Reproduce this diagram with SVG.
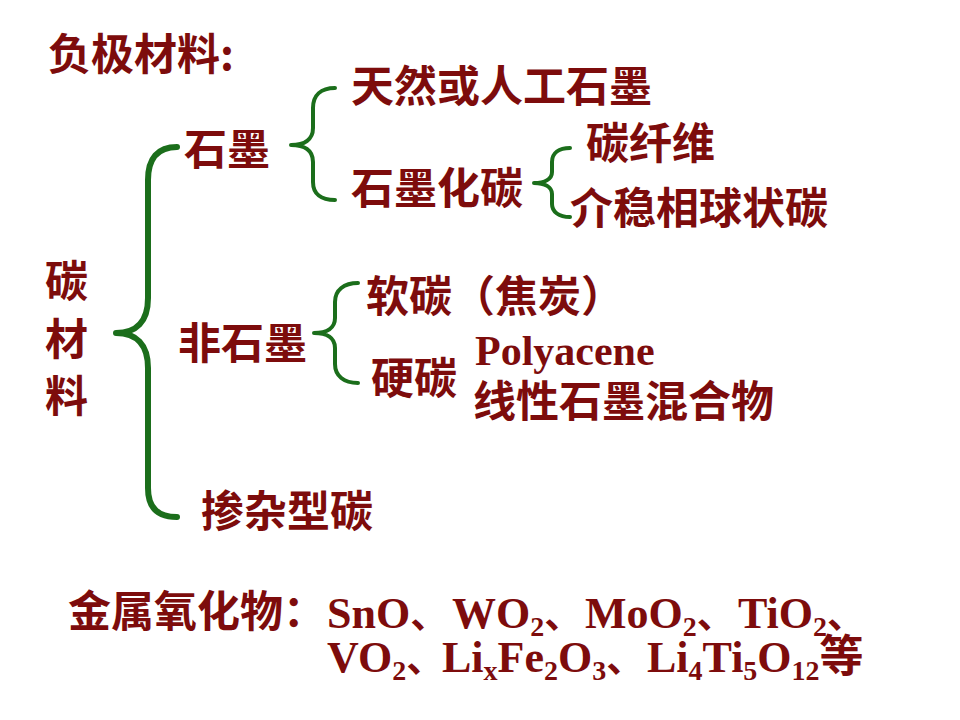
<svg xmlns="http://www.w3.org/2000/svg" width="960" height="720" viewBox="0 0 960 720">
<style>
.cn{font-family:"Noto Sans CJK SC","Noto Sans",sans-serif;font-size:43px;font-weight:700;fill:#7d0c0c}
.la{font-family:"Liberation Serif","Noto Sans CJK SC",serif;font-size:44px;font-weight:700;fill:#7d0c0c}
.sub{font-size:28px}
.cm{font-size:38px}
.br{fill:none;stroke:#1b6e1b;stroke-width:4;stroke-linecap:round;stroke-linejoin:round}
.big{stroke-width:6}
</style>
<rect width="960" height="720" fill="#ffffff"/>
<g id="title"><text class="cn" x="48" y="70">负极材料:</text></g>
<g id="connectors">
<path class="br big" d="M177,147 C158,147 148,158 148,180 L148,298 C148,322 136,333 116,333 C136,333 148,344 148,368 L148,488 C148,508 158,517 177,517"/>
<path class="br" d="M335,88 C321,88 313,95 313,108 L313,128 C313,140 304,145 291,145 C304,145 313,150 313,162 L313,182 C313,194 321,200 335,200"/>
<path class="br" d="M570,148 C559,148 552,153 552,162 L552,172 C552,179 545,183 534,183 C545,183 552,187 552,194 L552,204 C552,212 559,217 570,217"/>
<path class="br" d="M358,283 C344,283 335,290 335,302 L335,318 C335,328 327,333 314,333 C327,333 335,338 335,348 L335,364 C335,376 344,383 358,383"/>
</g>
<g id="n-carbon"><text class="cn" x="45" y="297">碳</text><text class="cn" x="45" y="355">材</text><text class="cn" x="45" y="412">料</text></g>
<g id="n-graphite"><text class="cn" x="184" y="165">石墨</text></g>
<g id="n-natural"><text class="cn" x="351" y="102">天然或人工石墨</text></g>
<g id="n-graphitized"><text class="cn" x="351" y="204">石墨化碳</text></g>
<g id="n-fiber"><text class="cn" x="586" y="159">碳纤维</text></g>
<g id="n-mcmb"><text class="cn" x="570" y="224">介稳相球状碳</text></g>
<g id="n-nongraphite"><text class="cn" x="178" y="359">非石墨</text></g>
<g id="n-soft"><text class="cn" x="366" y="312">软碳（焦炭）</text></g>
<g id="n-hard"><text class="cn" x="371" y="394">硬碳</text></g>
<g id="n-polyacene"><text class="la" x="475" y="365" style="font-size:42px">Polyacene</text></g>
<g id="n-linear"><text class="cn" x="473" y="417">线性石墨混合物</text></g>
<g id="n-doped"><text class="cn" x="201" y="527">掺杂型碳</text></g>
<g id="oxides">
<text class="cn" x="68" y="627">金属氧化物：</text>
<text class="la" y="628"><tspan x="327">SnO</tspan><tspan class="cm">、</tspan><tspan x="452">WO</tspan><tspan class="sub" dy="8">2</tspan><tspan class="cm" dy="-8">、</tspan><tspan x="585">MoO</tspan><tspan class="sub" dy="8">2</tspan><tspan class="cm" dy="-8">、</tspan><tspan x="738">TiO</tspan><tspan class="sub" dy="8">2</tspan><tspan class="cm" dy="-8">、</tspan></text>
<text class="la" y="672"><tspan x="327">VO</tspan><tspan class="sub" dy="8">2</tspan><tspan class="cm" dy="-8">、</tspan><tspan x="442">Li</tspan><tspan class="sub" dy="8">x</tspan><tspan dy="-8">Fe</tspan><tspan class="sub" dy="8">2</tspan><tspan dy="-8">O</tspan><tspan class="sub" dy="8">3</tspan><tspan class="cm" dy="-8">、</tspan><tspan x="647">Li</tspan><tspan class="sub" dy="8">4</tspan><tspan dy="-8">Ti</tspan><tspan class="sub" dy="8">5</tspan><tspan dy="-8">O</tspan><tspan class="sub" dy="8">12</tspan><tspan dy="-8" font-family="Noto Sans CJK SC, sans-serif">等</tspan></text>
</g>
</svg>
